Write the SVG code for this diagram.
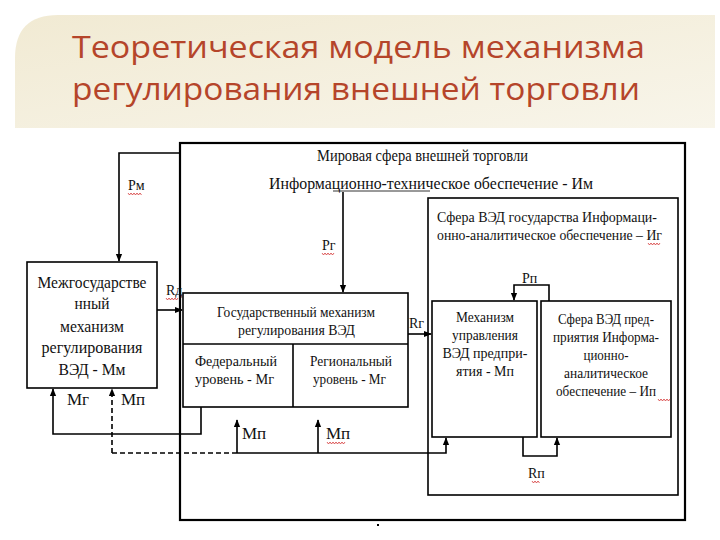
<svg xmlns="http://www.w3.org/2000/svg" width="720" height="540" viewBox="0 0 720 540">
<defs>
<linearGradient id="band" x1="0" y1="0" x2="1" y2="1">
<stop offset="0" stop-color="#f1ead3"/>
<stop offset="1" stop-color="#f8f5ea"/>
</linearGradient>
<marker id="ah" viewBox="0 0 10 10" refX="9" refY="5" markerWidth="8" markerHeight="8" markerUnits="userSpaceOnUse" orient="auto">
<path d="M0,1 L10,5 L0,9 Z" fill="#000"/>
</marker>
</defs>
<style>
.t{font-family:"Liberation Serif","Times New Roman",serif;font-size:15px;fill:#111}
.big{font-size:17px}
.lb{font-size:14px}
.c{text-anchor:middle}
.box{fill:#fff;stroke:#000;stroke-width:1.6}
.frame{fill:none;stroke:#000;stroke-width:2.2}
.ln{fill:none;stroke:#000;stroke-width:1.6}
.ar{fill:none;stroke:#000;stroke-width:1.6;marker-end:url(#ah)}
.sq{fill:none;stroke:#d02020;stroke-width:0.7}
.title{font-family:"Open Sans","DejaVu Sans",sans-serif;font-size:31px;fill:#b5452a}
</style>
<rect width="720" height="540" fill="#fff"/>
<path d="M15,58 Q15,15 58,15 L715,15 L715,128 L15,128 Z" fill="url(#band)"/>
<text class="title" x="72" y="58" textLength="573" lengthAdjust="spacingAndGlyphs">Теоретическая модель механизма</text>
<text class="title" x="72" y="100" textLength="568" lengthAdjust="spacingAndGlyphs">регулирования внешней торговли</text>

<g id="world">
<rect class="frame" x="180" y="143" width="505" height="377"/>
<text class="t big" x="317" y="161" textLength="211" lengthAdjust="spacingAndGlyphs">Мировая сфера внешней торговли</text>
<text class="t big" x="269" y="189" textLength="324" lengthAdjust="spacingAndGlyphs">Информационно-техническое обеспечение - Им</text>
<line x1="333" y1="191" x2="430" y2="191" stroke="#000" stroke-width="0.8"/>
<rect x="377" y="524" width="2" height="2" fill="#000"/>
</g>

<g id="state-sphere">
<rect class="box" x="428" y="198" width="250" height="297" stroke-width="1.3"/>
<text class="t" x="437" y="222" textLength="220" lengthAdjust="spacingAndGlyphs">Сфера ВЭД государства Информаци-</text>
<text class="t" x="437" y="240" textLength="225" lengthAdjust="spacingAndGlyphs">онно-аналитическое обеспечение – Иг</text>
</g>

<g id="interstate">
<rect class="box" x="27" y="262" width="130" height="126"/>
<text class="t big c" x="92" y="288" textLength="109" lengthAdjust="spacingAndGlyphs">Межгосударстве</text>
<text class="t big c" x="92" y="309" textLength="35" lengthAdjust="spacingAndGlyphs">нный</text>
<text class="t big c" x="92" y="332" textLength="64" lengthAdjust="spacingAndGlyphs">механизм</text>
<text class="t big c" x="92" y="353" textLength="101" lengthAdjust="spacingAndGlyphs">регулирования</text>
<text class="t big c" x="92" y="375" textLength="67" lengthAdjust="spacingAndGlyphs">ВЭД - Мм</text>
</g>

<g id="state-mech">
<rect class="box" x="183" y="293" width="225" height="114"/>
<line class="ln" x1="183" y1="344" x2="408" y2="344"/>
<line class="ln" x1="293" y1="344" x2="293" y2="407"/>
<text class="t" x="217" y="317" textLength="158" lengthAdjust="spacingAndGlyphs">Государственный механизм</text>
<text class="t" x="238" y="335" textLength="117" lengthAdjust="spacingAndGlyphs">регулирования ВЭД</text>
<text class="t" x="195" y="366" textLength="82" lengthAdjust="spacingAndGlyphs">Федеральный</text>
<text class="t" x="195" y="384" textLength="79" lengthAdjust="spacingAndGlyphs">уровень - Мг</text>
<text class="t" x="310" y="366" textLength="82" lengthAdjust="spacingAndGlyphs">Региональный</text>
<text class="t" x="313" y="384" textLength="73" lengthAdjust="spacingAndGlyphs">уровень - Мг</text>
</g>

<g id="firm-mech">
<rect class="box" x="432" y="301" width="105" height="136"/>
<text class="t c" x="485" y="322" textLength="58" lengthAdjust="spacingAndGlyphs">Механизм</text>
<text class="t c" x="485" y="340" textLength="66" lengthAdjust="spacingAndGlyphs">управления</text>
<text class="t c" x="485" y="358" textLength="85" lengthAdjust="spacingAndGlyphs">ВЭД предпри-</text>
<text class="t c" x="485" y="376" textLength="58" lengthAdjust="spacingAndGlyphs">ятия - Мп</text>
</g>

<g id="firm-sphere">
<rect class="box" x="541" y="301" width="130" height="136"/>
<text class="t c" x="606" y="324" textLength="96" lengthAdjust="spacingAndGlyphs">Сфера ВЭД пред-</text>
<text class="t c" x="606" y="342" textLength="106" lengthAdjust="spacingAndGlyphs">приятия Информа-</text>
<text class="t c" x="606" y="360" textLength="45" lengthAdjust="spacingAndGlyphs">ционно-</text>
<text class="t c" x="606" y="378" textLength="84" lengthAdjust="spacingAndGlyphs">аналитическое</text>
<text class="t c" x="606" y="396" textLength="100" lengthAdjust="spacingAndGlyphs">обеспечение – Ип</text>
</g>

<g id="connectors">
<path class="ar" d="M180,153 H119 V261"/>
<path class="ar" d="M343,192 V292"/>
<path class="ar" d="M157,310 H182"/>
<path class="ar" d="M408,334 H431"/>
<path class="ar" d="M549,301 V285 H514 V300"/>
<path class="ar" d="M523,437 V456 H557 V438"/>
<path class="ar" d="M201,407 V434 H53 V389"/>
<path class="ar" d="M112,453 V389" stroke-dasharray="5,3"/>
<path class="ln" d="M112,453 H237" stroke-dasharray="5,3"/>
<path class="ar" d="M237,453 H446 V438"/>
<path class="ar" d="M237,453 V420"/>
<path class="ar" d="M318,453 V420"/>
</g>

<g id="labels">
<text class="t lb" x="128" y="190">Рм</text>
<text class="t lb" x="322" y="250">Рг</text>
<text class="t lb" x="522" y="283">Рп</text>
<text class="t lb" x="166" y="295">Rд</text>
<text class="t lb" x="409" y="328">Rг</text>
<text class="t lb" x="528" y="478">Rп</text>
<text class="t big" x="67" y="405">Мг</text>
<text class="t big" x="121" y="405">Мп</text>
<text class="t big" x="242" y="439">Мп</text>
<text class="t big" x="326" y="439">Мп</text>
<path class="sq" d="M128,193 l1.5,2 l1.5,-2 l1.5,2 l1.5,-2 l1.5,2 l1.5,-2 l1.5,2 l1.5,-2 l1.5,2"/>
<path class="sq" d="M322,253 l1.5,2 l1.5,-2 l1.5,2 l1.5,-2 l1.5,2 l1.5,-2 l1.5,2 l1.5,-2"/>
<path class="sq" d="M166,298 l1.5,2 l1.5,-2 l1.5,2 l1.5,-2 l1.5,2 l1.5,-2 l1.5,2 l1.5,-2"/>
<path class="sq" d="M532,481 l1.5,2 l1.5,-2 l1.5,2 l1.5,-2 l1.5,2"/>
<path class="sq" d="M327,442 l1.5,2 l1.5,-2 l1.5,2 l1.5,-2 l1.5,2 l1.5,-2 l1.5,2 l1.5,-2 l1.5,2 l1.5,-2 l1.5,2 l1.5,-2"/>
<path class="sq" d="M648,243 l1.5,2 l1.5,-2 l1.5,2 l1.5,-2 l1.5,2 l1.5,-2 l1.5,2 l1.5,-2"/>
<path class="sq" d="M658,399 l1.5,2 l1.5,-2 l1.5,2 l1.5,-2 l1.5,2 l1.5,-2 l1.5,2 l1.5,-2"/>
</g>
</svg>
